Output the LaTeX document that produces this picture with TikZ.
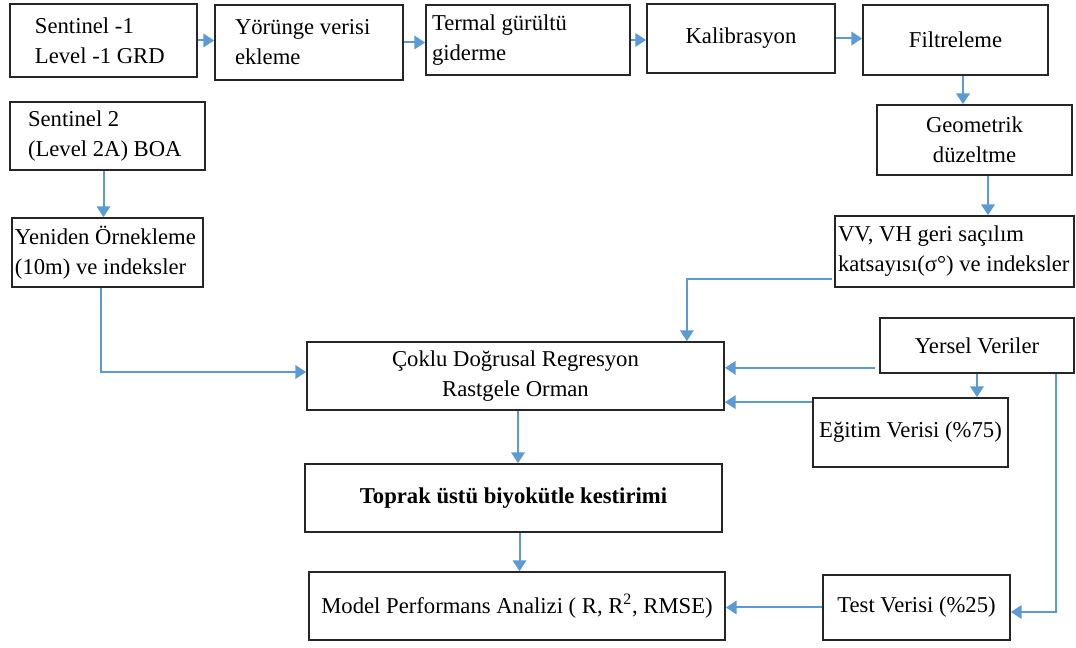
\documentclass[tikz,border=0pt]{standalone}
\usepackage{fontspec}
\setmainfont{Liberation Serif}
\usetikzlibrary{arrows.meta}
\usetikzlibrary{calc,positioning}
\definecolor{arrblue}{RGB}{91,155,213}
\tikzset{
    box/.style={draw=black!85, line width=1.3pt, inner ysep=0pt,
        font=\fontsize{17}{22.5}\selectfont},
    arr/.style={draw=arrblue, line width=1.5pt,
        -{Triangle[width=10pt,length=8pt]}},
}
% name, left, top, right, bottom (px), align, inset (px), text
\newcommand\FLOWBOX[8] {
    \pgfmathsetmacro{\bw}{0.75*(#4-#2)}
    \pgfmathsetmacro{\bh}{0.75*(#5-#3)}
    \pgfmathsetmacro{\bi}{0.75*#7}
    \pgfmathsetmacro{\tw}{\bw-2*\bi}
    \node[box, minimum height=\bh pt, text width=\tw pt, inner xsep=\bi pt, align=#6]
        (#1) at ({(#2+#4)/2},{(#3+#5)/2}) {#8};
}
\begin{document}
\begin{tikzpicture}[x=0.75pt, y=-0.75pt]
    \useasboundingbox[fill=white] (0,0) rectangle (1076,648);

    % Sentinel-1 chain.
    \FLOWBOX{s1}{10}{4}{197}{77}{flush left}{25}{Sentinel -1\\Level -1 GRD}
    \FLOWBOX{yor}{215}{5}{403}{80}{flush left}{20}{Yörünge verisi\\ekleme}
    \FLOWBOX{term}{426}{5}{630}{75}{flush left}{6}{Termal gürültü\\giderme}
    \FLOWBOX{kal}{647}{4}{835}{73}{flush center}{4}{Kalibrasyon}
    \FLOWBOX{fil}{863}{5}{1048}{75}{flush center}{4}{Filtreleme}
    \FLOWBOX{geo}{877}{105}{1072}{175}{flush center}{4}{Geometrik\\düzeltme}
    \FLOWBOX{vv}{835}{216}{1074}{287}{flush left}{3}{VV, VH geri saçılım\\katsayısı(σ°) ve indeksler}

    % Sentinel-2 chain.
    \FLOWBOX{s2}{10}{102}{205}{170}{flush left}{18}{Sentinel 2\\(Level 2A) BOA}
    \FLOWBOX{yen}{12}{218}{203}{287}{flush left}{3}{Yeniden Örnekleme\\(10m) ve indeksler}

    % Models and field data.
    \FLOWBOX{coklu}{307}{342}{724}{410}{flush center}{4}{Çoklu Doğrusal Regresyon\\Rastgele Orman\hspace*{1.3em}}
    \FLOWBOX{yersel}{880}{318}{1074}{373}{flush center}{4}{Yersel Veriler}
    \FLOWBOX{egitim}{813}{398}{1008}{467}{flush center}{4}{Eğitim Verisi (\%75)}
    \FLOWBOX{toprak}{305}{464}{722}{532}{flush center}{4}{\textbf{Toprak üstü biyokütle kestirimi}}
    \FLOWBOX{model}{309}{572}{725}{640}{flush center}{4}{Model Performans Analizi ( R, R\textsuperscript{2}, RMSE)}
    \FLOWBOX{test}{823}{575}{1010}{640}{flush center}{4}{Test Verisi (\%25)}

    % Connectors.
    \foreach \a/\b in {s1/yor,yor/term,term/kal,kal/fil}
        \draw[arr] (\a.east) -- (\a.east -| \b.west);
    \coordinate (f1) at ($(fil.south)+(7.5,0)$);
    \draw[arr] (f1) -- (f1 |- geo.north);
    \coordinate (g1) at ($(geo.south)+(13.5,0)$);
    \draw[arr] (g1) -- (g1 |- vv.north);
    \coordinate (s2b) at ($(s2.south)+(-4,0)$);
    \draw[arr] (s2b) -- (s2b |- yen.north);
    \coordinate (y1) at ($(yen.south)+(-7,0)$);
    \draw[arr] (y1) |- ($(coklu.west)+(0,-4)$);
    \coordinate (v1) at ($(vv.south west)+(-2,-9)$);
    \draw[arr] (v1) -| ($(coklu.north east)+(-38,0)$);
    \coordinate (r1) at ($(yersel.south west)+(-4,-6)$);
    \draw[arr] (r1) -- (r1 -| coklu.east);
    \draw[arr] (yersel.south) -- (yersel.south |- egitim.north);
    \coordinate (e1) at ($(egitim.north west)+(0,5)$);
    \draw[arr] (e1) -- (e1 -| coklu.east);
    \coordinate (r2) at ($(yersel.south east)+(-19,0)$);
    \draw[arr] (r2) |- ($(test.east)+(0,4.5)$);
    \coordinate (c1) at ($(coklu.south)+(2.5,0)$);
    \draw[arr] (c1) -- (c1 |- toprak.north);
    \coordinate (t1) at ($(toprak.south)+(6,0)$);
    \draw[arr] (t1) -- (t1 |- model.north);
    \draw[arr] (test.west) -- (test.west -| model.east);
\end{tikzpicture}
\end{document}
